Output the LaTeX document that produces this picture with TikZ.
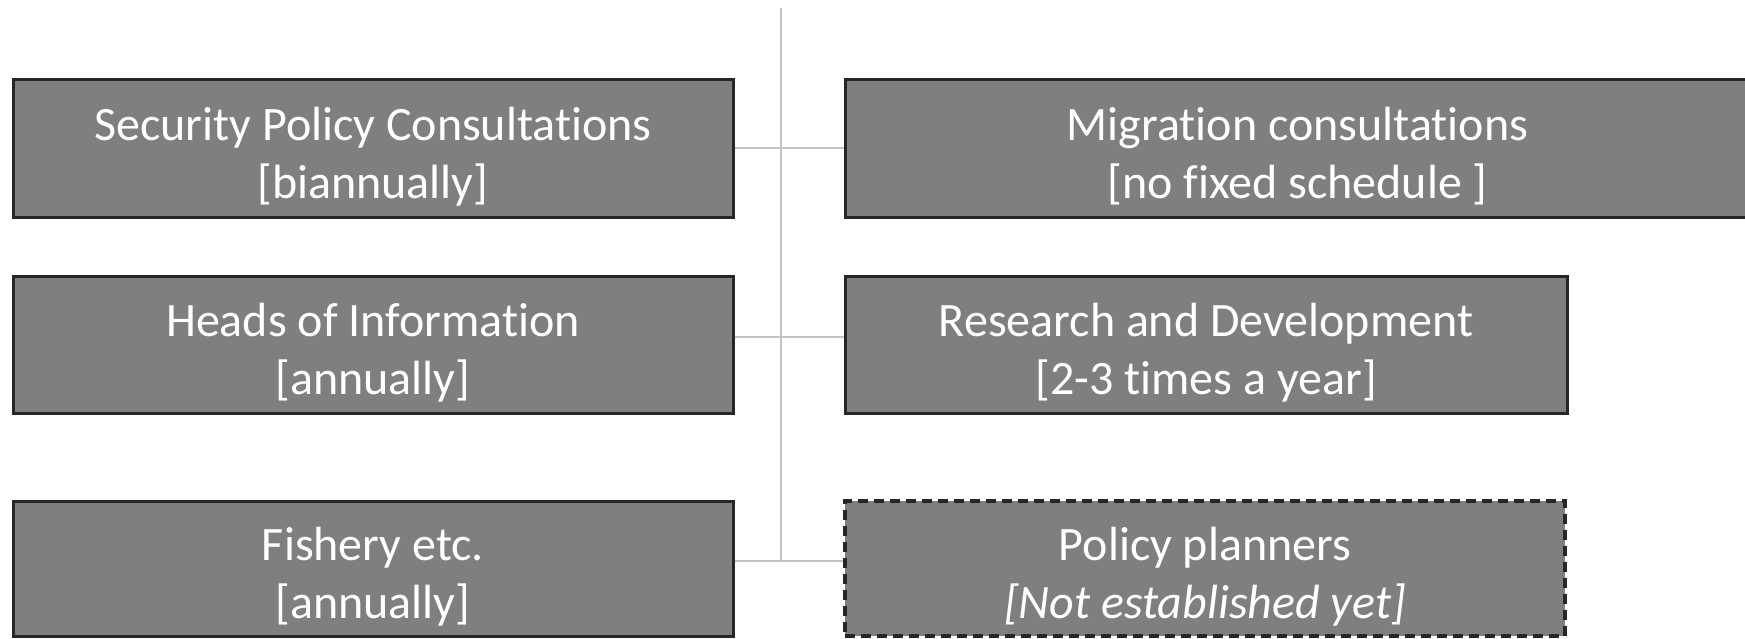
\documentclass[tikz,border=0pt]{standalone}
\usepackage{fontspec}
\setmainfont[Ligatures=NoCommon]{Carlito}
\newcommand\tstrut{\rule{0pt}{50pt}}
\begin{document}
\begin{tikzpicture}[x=1pt,y=-1pt,
  box/.style={draw=boxline,fill=boxfill,line width=3pt,text=white,align=center,
    inner sep=0pt,font=\fontsize{48}{58}\selectfont},
  dashbox/.style={box,dash pattern=on 10pt off 6pt,line width=4pt},
  conn/.style={draw=connc,line width=1.6pt}]
\definecolor{boxfill}{HTML}{7F7F7F}
\definecolor{boxline}{HTML}{262626}
\definecolor{connc}{HTML}{C4C4C4}
\useasboundingbox (0,0) rectangle (1745,638);
\fill[white] (0,0) rectangle (1745,638);
% anchor coordinates
\coordinate (top) at (781,8);
\coordinate (c1) at (781,148);
\coordinate (c2) at (781,337);
\coordinate (c3) at (781,561);
% connectors
\draw[conn] (top) -- (c3);
% boxes
\node[box,minimum width=720pt,minimum height=138pt] (s1) at (373,148) {\tstrut Security Policy Consultations\\{}[biannually]};
\node[box,minimum width=720pt,minimum height=137pt] (h) at (373,344.5) {\tstrut Heads of Information\\{}[annually]};
\node[box,minimum width=720pt,minimum height=135pt] (f) at (373,568.5) {\tstrut Fishery etc.\\{}[annually]};
\node[box,minimum width=905pt,minimum height=138pt] (m) at (1297.5,148) {\tstrut Migration consultations\\{}[no fixed schedule ]};
\node[box,minimum width=722pt,minimum height=137pt] (r) at (1206,344.5) {\tstrut Research and Development\\{}[2-3 times a year]};
\node[dashbox,minimum width=720pt,minimum height=135pt] (p) at (1205,568.5) {\tstrut Policy planners\\{}\itshape [Not established yet]};
\draw[conn] (s1.east |- c1) -- (m.west |- c1);
\draw[conn] (h.east |- c2) -- (r.west |- c2);
\draw[conn] (f.east |- c3) -- (p.west |- c3);
\end{tikzpicture}
\end{document}
